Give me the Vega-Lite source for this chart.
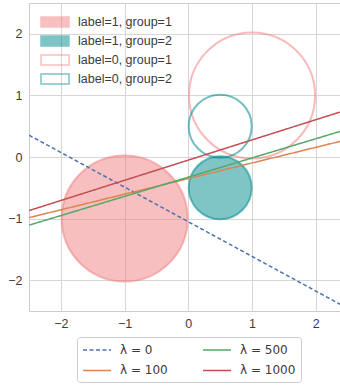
{
  "$schema": "https://vega.github.io/schema/vega-lite/v6.json",
  "width": 311,
  "height": 308,
  "autosize": {"type": "none"},
  "padding": {"left": 29, "top": 3, "right": 0, "bottom": 74},
  "config": {
    "font": "Liberation Sans",
    "view": {"stroke": "#cccccc", "strokeWidth": 1},
    "axis": {
      "domain": false,
      "ticks": false,
      "grid": true,
      "gridColor": "#d6d6d6",
      "gridWidth": 1,
      "labelFont": "Liberation Sans",
      "labelFontSize": 12.5,
      "labelColor": "#3b3b3b",
      "title": null
    },
    "legend": {
      "labelFont": "Liberation Sans",
      "labelFontSize": 12.5,
      "labelColor": "#3b3b3b"
    }
  },
  "layer": [
    {
      "data": {
        "values": [
          {"x": -1, "y": -1, "r": 1, "cat": "label=1, group=1"},
          {"x": 0.5, "y": -0.5, "r": 0.5, "cat": "label=1, group=2"},
          {"x": 1, "y": 1, "r": 1, "cat": "label=0, group=1"},
          {"x": 0.5, "y": 0.5, "r": 0.5, "cat": "label=0, group=2"}
        ]
      },
      "mark": {"type": "point", "shape": "circle", "filled": false, "fillOpacity": 0.5, "strokeOpacity": 0.55, "strokeWidth": 2, "opacity": 1},
      "encoding": {
        "x": {"field": "x", "type": "quantitative", "scale": {"domain": [-2.5, 2.38], "nice": false, "zero": false}, "axis": {"values": [-2, -1, 0, 1, 2], "format": "d", "labelPadding": 6}},
        "y": {"field": "y", "type": "quantitative", "scale": {"domain": [-2.5, 2.5], "nice": false, "zero": false}, "axis": {"values": [-2, -1, 0, 1, 2], "format": "d", "labelPadding": 7}},
        "size": {"field": "r", "type": "quantitative", "scale": {"type": "pow", "exponent": 2, "domain": [0, 1], "range": [0, 15876]}, "legend": null},
        "fill": {
          "field": "cat", "type": "nominal",
          "scale": {"domain": ["label=1, group=1", "label=1, group=2", "label=0, group=1", "label=0, group=2"], "range": ["#F08080", "#008B8B", "transparent", "transparent"]},
          "legend": {"title": null, "orient": "none", "legendX": 15, "legendY": 8, "padding": 0, "symbolType": "M-1.4,-0.5H1.4V0.5H-1.4Z", "symbolSize": 400, "symbolStrokeWidth": 1.5, "symbolOpacity": 0.5, "labelOffset": 12, "rowPadding": 0}
        },
        "stroke": {
          "field": "cat", "type": "nominal",
          "scale": {"domain": ["label=1, group=1", "label=1, group=2", "label=0, group=1", "label=0, group=2"], "range": ["#F08080", "#008B8B", "#F08080", "#008B8B"]},
          "legend": {"title": null, "orient": "none", "legendX": 15, "legendY": 8, "padding": 0, "symbolType": "M-1.4,-0.5H1.4V0.5H-1.4Z", "symbolSize": 400, "symbolStrokeWidth": 1.5, "symbolOpacity": 0.5, "labelOffset": 12, "rowPadding": 0}
        }
      }
    },
    {
      "data": {
        "values": [
          {"lam": "λ = 0", "x": -2.5, "y": 0.355},
          {"lam": "λ = 0", "x": 2.38, "y": -2.39},
          {"lam": "λ = 100", "x": -2.5, "y": -0.984},
          {"lam": "λ = 100", "x": 2.38, "y": 0.253},
          {"lam": "λ = 500", "x": -2.5, "y": -1.107},
          {"lam": "λ = 500", "x": 2.38, "y": 0.415},
          {"lam": "λ = 1000", "x": -2.5, "y": -0.87},
          {"lam": "λ = 1000", "x": 2.38, "y": 0.73}
        ]
      },
      "mark": {"type": "line", "strokeWidth": 1.5, "clip": true},
      "encoding": {
        "x": {"field": "x", "type": "quantitative"},
        "y": {"field": "y", "type": "quantitative"},
        "color": {
          "field": "lam", "type": "nominal",
          "scale": {"domain": ["λ = 0", "λ = 100", "λ = 500", "λ = 1000"], "range": ["#4C72B0", "#DD8452", "#55A868", "#C44E52"]},
          "legend": {"title": null, "orient": "none", "legendX": 48, "legendY": 334, "columns": 2, "columnPadding": 32, "padding": 5, "strokeColor": "#cccccc", "fillColor": "white", "cornerRadius": 3, "symbolType": "M-1,0H3", "symbolSize": 196, "symbolStrokeWidth": 1.5, "labelOffset": 22, "rowPadding": 6.4, "labelFont": "DejaVu Sans", "labelFontSize": 12}
        },
        "strokeDash": {
          "field": "lam", "type": "nominal",
          "scale": {"domain": ["λ = 0", "λ = 100", "λ = 500", "λ = 1000"], "range": [[4, 2.5], [1, 0], [1, 0], [1, 0]]},
          "legend": {"title": null, "orient": "none", "legendX": 48, "legendY": 334, "columns": 2, "columnPadding": 32, "padding": 5, "strokeColor": "#cccccc", "fillColor": "white", "cornerRadius": 3, "symbolType": "M-1,0H3", "symbolSize": 196, "symbolStrokeWidth": 1.5, "labelOffset": 22, "rowPadding": 6.4, "labelFont": "DejaVu Sans", "labelFontSize": 12}
        }
      }
    }
  ]
}
